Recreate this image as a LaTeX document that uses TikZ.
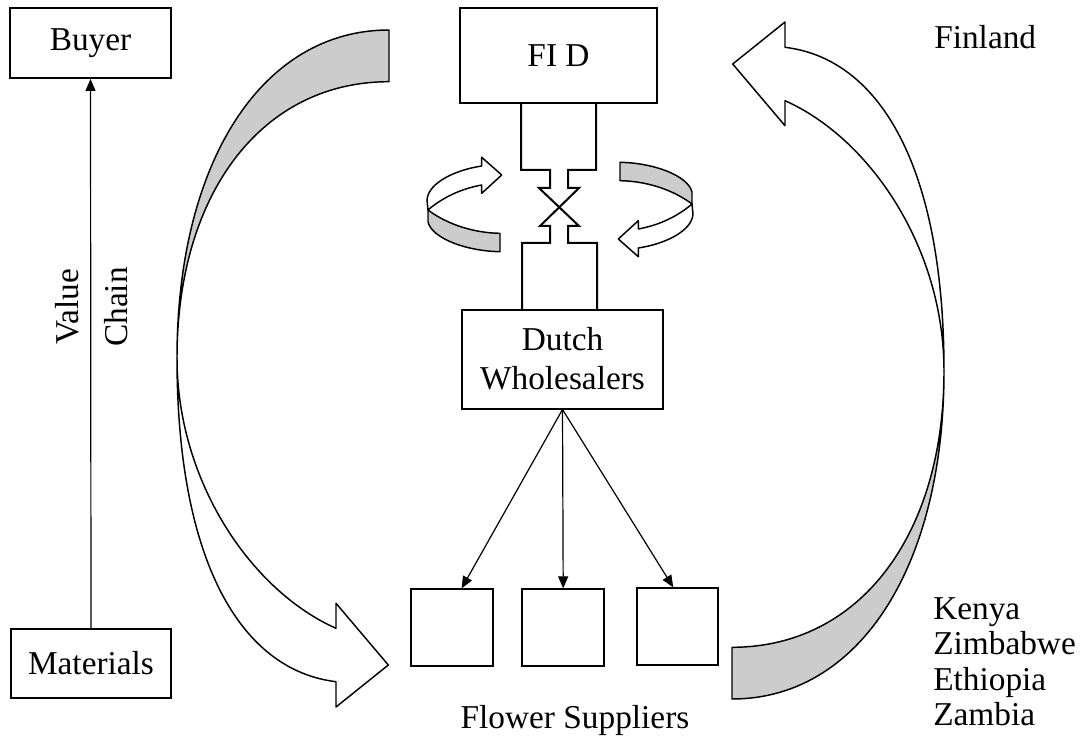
\documentclass[tikz,border=0pt]{standalone}
\usepackage{fontspec}
\setmainfont{Liberation Serif}
\usetikzlibrary{arrows.meta}

\begin{document}
\begin{tikzpicture}[x=0.75pt,y=-0.75pt,
  box/.style={draw,line width=1.5pt,inner sep=0pt,align=center,font=\fontsize{25}{29}\selectfont},
  lbl/.style={inner sep=0pt,align=left,font=\fontsize{25}{26.6}\selectfont},
  link/.style={line width=0.9pt,-{Triangle[length=9pt,width=7.5pt]}},
  band/.style={line width=1.1pt,line join=round},
  neck/.style={line width=1.5pt,line join=miter}]

  \useasboundingbox (0,0) rectangle (1084,745);

  % Value chain axis
  \node[box,minimum width=120.75pt,minimum height=52.5pt] (buy) at (90.5,43) {Buyer};
  \node[box,minimum width=120pt,minimum height=51.75pt] (mat) at (91,663.5) {Materials};
  \draw[link] (mat.north) -- (buy.south);
  \node[lbl,rotate=90,anchor=base west] (val) at (78,345) {Value};
  \node[lbl,rotate=90,anchor=base west] (chn) at (127,347) {Chain};

  % Big turning bands
  \foreach \ang in {0,180}{
    \begin{scope}[rotate around={\ang:(560.5,364.5)}]
      \draw[band,fill=gray!40] (389,30) .. controls (262,30) and (177,162) .. (177,358)
        .. controls (177,193) and (262,81.7) .. (389,81.7) -- cycle;
      \draw[band,fill=white] (177,358) .. controls (177,480) and (250,590) .. (336,628.3)
        -- (336,603.3) -- (388.3,665) -- (336,707) -- (336,681.7)
        .. controls (240,670) and (177,560) .. (177,358) -- cycle;
    \end{scope}
  }

  % FID and Dutch wholesalers
  \node[box,minimum width=147.75pt,minimum height=71.25pt] (fid) at (558.5,56) {FI D};
  \node[box,minimum width=150.75pt,minimum height=74.25pt] (dw) at (562.5,359) {Dutch\\Wholesalers};

  % Neck between them
  \draw[neck] (521,103) -- (521,170) -- (550,170) -- (550,188) -- (539,188) -- (579,226)
    -- (568,226) -- (568,243) -- (597,243) -- (597,309);
  \draw[neck] (596,103) -- (596,170) -- (568,170) -- (568,188) -- (579,188) -- (540,226)
    -- (550,226) -- (550,243) -- (522,243) -- (522,309);

  % Small turning arrows
  \foreach \ang in {0,180}{
    \begin{scope}[rotate around={\ang:(560,207)}]
      \draw[band,fill=gray!40] (428,210) .. controls (448,225) and (475,233) .. (500,233.3)
        -- (500,251.7) .. controls (465,251) and (432,238) .. (428,222) -- cycle;
      \draw[band,fill=white] (481.7,166) .. controls (455,170) and (428,183) .. (427,200)
        -- (428,210) .. controls (442,198) and (460,189) .. (481.7,185)
        -- (481.7,193.3) -- (501.7,175) -- (481.7,157.3) -- cycle;
    \end{scope}
  }

  % Flower suppliers
  \node[box,minimum width=61.3pt,minimum height=57.5pt] (s1) at (451.9,627.7) {};
  \node[box,minimum width=61.3pt,minimum height=57.5pt] (s2) at (563.2,627.7) {};
  \node[box,minimum width=60.75pt,minimum height=57.5pt] (s3) at (677.8,626.7) {};
  \draw[link] (dw.south) -- ([xshift=7.3pt]s1.north);
  \draw[link] (dw.south) -- (s2.north);
  \draw[link] (dw.south) -- ([xshift=-3.4pt]s3.north);
  \node[lbl] (fs) at (575,720) {Flower Suppliers};

  % Countries
  \node[lbl,anchor=west] (fin) at (934,37) {Finland};
  \node[lbl,anchor=north west] (ctr) at (933,597) {Kenya\\Zimbabwe\\Ethiopia\\Zambia};

\end{tikzpicture}
\end{document}
